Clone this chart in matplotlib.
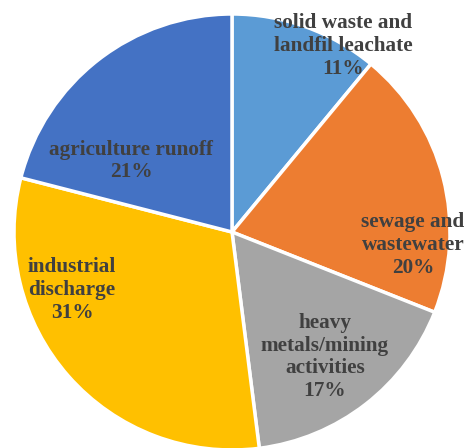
import matplotlib.pyplot as plt

# Sources of water pollution (share, %)
labels = ["solid waste and\nlandfil leachate", "sewage and\nwastewater",
          "heavy\nmetals/mining\nactivities", "industrial\ndischarge",
          "agriculture runoff"]
shares = [11, 20, 17, 31, 21]
colors = ["#5B9BD5", "#ED7D31", "#A5A5A5", "#FFC000", "#4472C4"]

# label anchor points (pixels in the 469x448 image)
label_pos = [(343, 46), (413, 245), (325, 357), (72, 290), (131, 161)]

fig = plt.figure(figsize=(4.69, 4.48), dpi=100)
ax = fig.add_axes([0, 0, 1, 1])

ax.pie(shares, colors=colors, startangle=90, counterclock=False,
       center=(232, 448 - 232), radius=218, frame=True,
       wedgeprops=dict(edgecolor="white", linewidth=2.5))

for lab, val, (px, py) in zip(labels, shares, label_pos):
    ax.text(px, 448 - py, f"{lab}\n{val}%", ha="center", va="center",
            fontsize=15.3, fontweight="bold", family="Liberation Serif",
            color="#404040", linespacing=1.17)

ax.set_xlim(0, 469)
ax.set_ylim(0, 448)
ax.set_aspect("equal")
ax.axis("off")

fig.savefig("out.png", dpi=100)
